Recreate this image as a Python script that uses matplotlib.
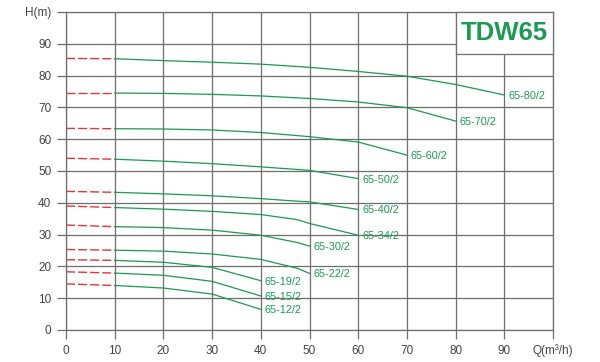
import matplotlib.pyplot as plt
from matplotlib.patches import Rectangle

plt.rcParams['font.family'] = ['Liberation Sans', 'DejaVu Sans']

# curve data: Q (m3/h) -> H (m)
names = ["65-80/2", "65-70/2", "65-60/2", "65-50/2", "65-40/2", "65-34/2",
         "65-30/2", "65-22/2", "65-19/2", "65-15/2", "65-12/2"]
q_list = [
    [10, 20, 30, 40, 50, 60, 70, 80, 90],
    [10, 20, 30, 40, 50, 60, 70, 80],
    [10, 20, 30, 40, 50, 60, 70],
    [10, 20, 30, 40, 50, 60],
    [10, 20, 30, 40, 47.5, 50, 60],
    [10, 20, 30, 40, 47.5, 50, 60],
    [10, 20, 30, 40, 47.5, 50],
    [10, 20, 30, 40, 47.5, 50],
    [10, 20, 30, 40],
    [10, 20, 30, 40],
    [10, 20, 30, 40],
]
h_list = [
    [85.3, 84.7, 84.2, 83.6, 82.6, 81.3, 79.8, 77.2, 73.9],
    [74.5, 74.4, 74.1, 73.6, 72.8, 71.7, 69.9, 65.7],
    [63.3, 63.2, 62.9, 62.1, 60.8, 59.1, 55.0],
    [53.7, 53.1, 52.3, 51.3, 50.2, 47.6],
    [43.3, 42.8, 42.2, 41.3, 40.5, 40.3, 37.9],
    [38.5, 38.0, 37.3, 36.3, 34.7, 33.5, 29.8],
    [32.5, 32.2, 31.4, 29.8, 27.5, 26.4],
    [25.1, 24.8, 23.9, 22.2, 19.4, 17.8],
    [21.9, 21.3, 19.7, 15.5],
    [17.9, 17.2, 15.3, 10.7],
    [14.0, 13.2, 11.3, 6.5],
]
# head at zero flow (red dashed part)
h_zero = [85.4, 74.5, 63.4, 54.0, 43.6, 39.0, 33.0, 25.3, 22.1, 18.3, 14.5]

xticks = [0, 10, 20, 30, 40, 50, 60, 70, 80, 90, 100]
yticks = [0, 10, 20, 30, 40, 50, 60, 70, 80, 90, 100]
xlabels = ["0", "10", "20", "30", "40", "50", "60", "70", "80", "90", "Q(m³/h)"]
ylabels = ["0", "10", "20", "30", "40", "50", "60", "70", "80", "90", "H(m)"]

grid_c = '#6e6e6e'
green = '#1a9a52'
red = '#e8333c'
text_c = '#444444'

fig = plt.figure(figsize=(6, 3.62), dpi=100)
ax = fig.add_axes([0.11, 0.0884, 0.8117, 0.8785])
ax.set_xlim(0, 100)
ax.set_ylim(0, 100)

ax.set_xticks(xticks)
ax.set_yticks(yticks)
ax.set_xticklabels(xlabels)
ax.set_yticklabels(ylabels)
ax.tick_params(length=6.5, width=0.9, color=grid_c, labelcolor=text_c,
               labelsize=8.5, pad=4)
ax.grid(True, color=grid_c, linewidth=0.9)
for s in ax.spines.values():
    s.set_color(grid_c)
    s.set_linewidth(0.9)

for name, q, h, h0 in zip(names, q_list, h_list, h_zero):
    ax.plot([0, q[0]], [h0, h[0]], color=red, lw=1.0, dashes=(6.5, 2.2))
    ax.plot(q, h, color=green, lw=0.9)
    ax.text(q[-1] + 0.8, h[-1] - 0.3, name, color=green, fontsize=7.8,
            ha='left', va='center')

# title box in the top right corner
ax.add_patch(Rectangle((80, 86.9), 20, 13.1, facecolor='white',
                       edgecolor=grid_c, lw=0.9, zorder=3, clip_on=False))
ax.text(90, 93.4, "TDW65", color=green, fontsize=18.5, fontweight='bold',
        ha='center', va='center', zorder=4)

fig.savefig("out.png", dpi=100)
